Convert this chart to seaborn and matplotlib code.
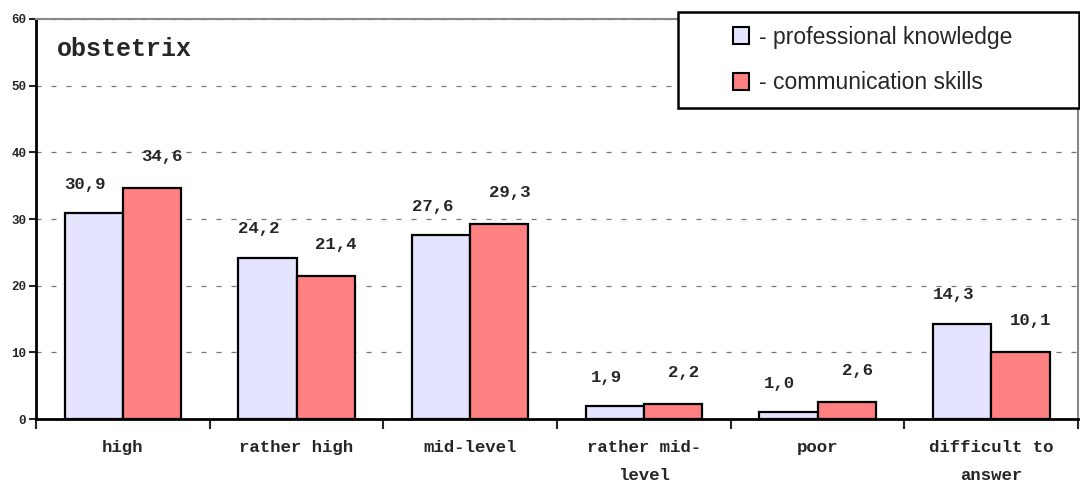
import pandas as pd
import numpy as np
import seaborn as sns
import matplotlib.pyplot as plt
from matplotlib.patches import Patch, Rectangle

categories = ["high", "rather high", "mid-level", "rather mid-\nlevel", "poor", "difficult to\nanswer"]
professional = [30.9, 24.2, 27.6, 1.9, 1.0, 14.3]
communication = [34.6, 21.4, 29.3, 2.2, 2.6, 10.1]
series = ["- professional knowledge", "- communication skills"]
colors = ["#E4E4FF", "#FF8080"]

df = pd.DataFrame({
    "category": categories * 2,
    "value": professional + communication,
    "series": [series[0]] * len(categories) + [series[1]] * len(categories),
})

sns.set_style("white")
mono = "Liberation Mono"

fig = plt.figure(figsize=(10.8, 4.87), dpi=100)
ax = fig.add_axes([0.0333, 0.1396, 0.965, 0.8214])

sns.barplot(data=df, x="category", y="value", hue="series", palette=colors, saturation=1,
            width=0.67, edgecolor="black", linewidth=1.6, ax=ax, legend=False)

ax.set_ylim(0, 60)
ax.set_xlim(-0.5, len(categories) - 0.5)
ax.set_yticks(range(0, 61, 10))
ax.yaxis.grid(True, linestyle=(0, (4, 8)), color="#777777", linewidth=0.9)
ax.set_axisbelow(True)
ax.set_xlabel("")
ax.set_ylabel("")

for lbl in ax.get_yticklabels():
    lbl.set_fontfamily(mono)
    lbl.set_fontweight("bold")
    lbl.set_fontsize(9)
ax.tick_params(axis="y", direction="out", length=5, width=1.5, left=True, pad=2)

ax.set_xticks(range(len(categories)))
ax.set_xticklabels(categories, fontfamily=mono, fontweight="bold", fontsize=12.5, linespacing=2.1)
ax.tick_params(axis="x", length=0, pad=15)
ax.set_xticks(np.arange(-0.5, len(categories), 1), minor=True)
ax.tick_params(axis="x", which="minor", direction="out", length=7, width=1.5, bottom=True)

for s in ["left", "bottom"]:
    ax.spines[s].set_color("black")
    ax.spines[s].set_linewidth(2)
for s in ["top", "right"]:
    ax.spines[s].set_color("#888888")
    ax.spines[s].set_linewidth(1.5)

# value labels
off = 0.67 / 4
for i in range(len(categories)):
    ax.text(i - off - 0.05, professional[i] + 3.2, f"{professional[i]:.1f}".replace(".", ","),
            ha="center", va="bottom", fontfamily=mono, fontweight="bold", fontsize=12.5)
    ax.text(i + off + 0.06, communication[i] + 3.6, f"{communication[i]:.1f}".replace(".", ","),
            ha="center", va="bottom", fontfamily=mono, fontweight="bold", fontsize=12.5)

ax.text(0.02, 0.955, "obstetrix", transform=ax.transAxes, fontfamily=mono,
        fontweight="bold", fontsize=18, va="top", ha="left")

# legend frame + entries
fig.patches.append(Rectangle((678 / 1080, 1 - 108 / 487), 1 - 678 / 1080 - 0.001, 96 / 487,
                             transform=fig.transFigure, facecolor="white",
                             edgecolor="black", linewidth=1.8, zorder=5))
handles = [Patch(facecolor=c, edgecolor="black", linewidth=1.5) for c in colors]
leg = fig.legend(handles, series, loc="center left",
                 bbox_to_anchor=(733 / 1080, 1 - 60 / 487),
                 frameon=False, prop={"family": "Liberation Sans", "size": 16.5},
                 handlelength=0.7, handleheight=0.8, handletextpad=0.45,
                 labelspacing=1.0, borderpad=0, borderaxespad=0)
leg.set_zorder(6)

fig.savefig("out.png", dpi=100)
